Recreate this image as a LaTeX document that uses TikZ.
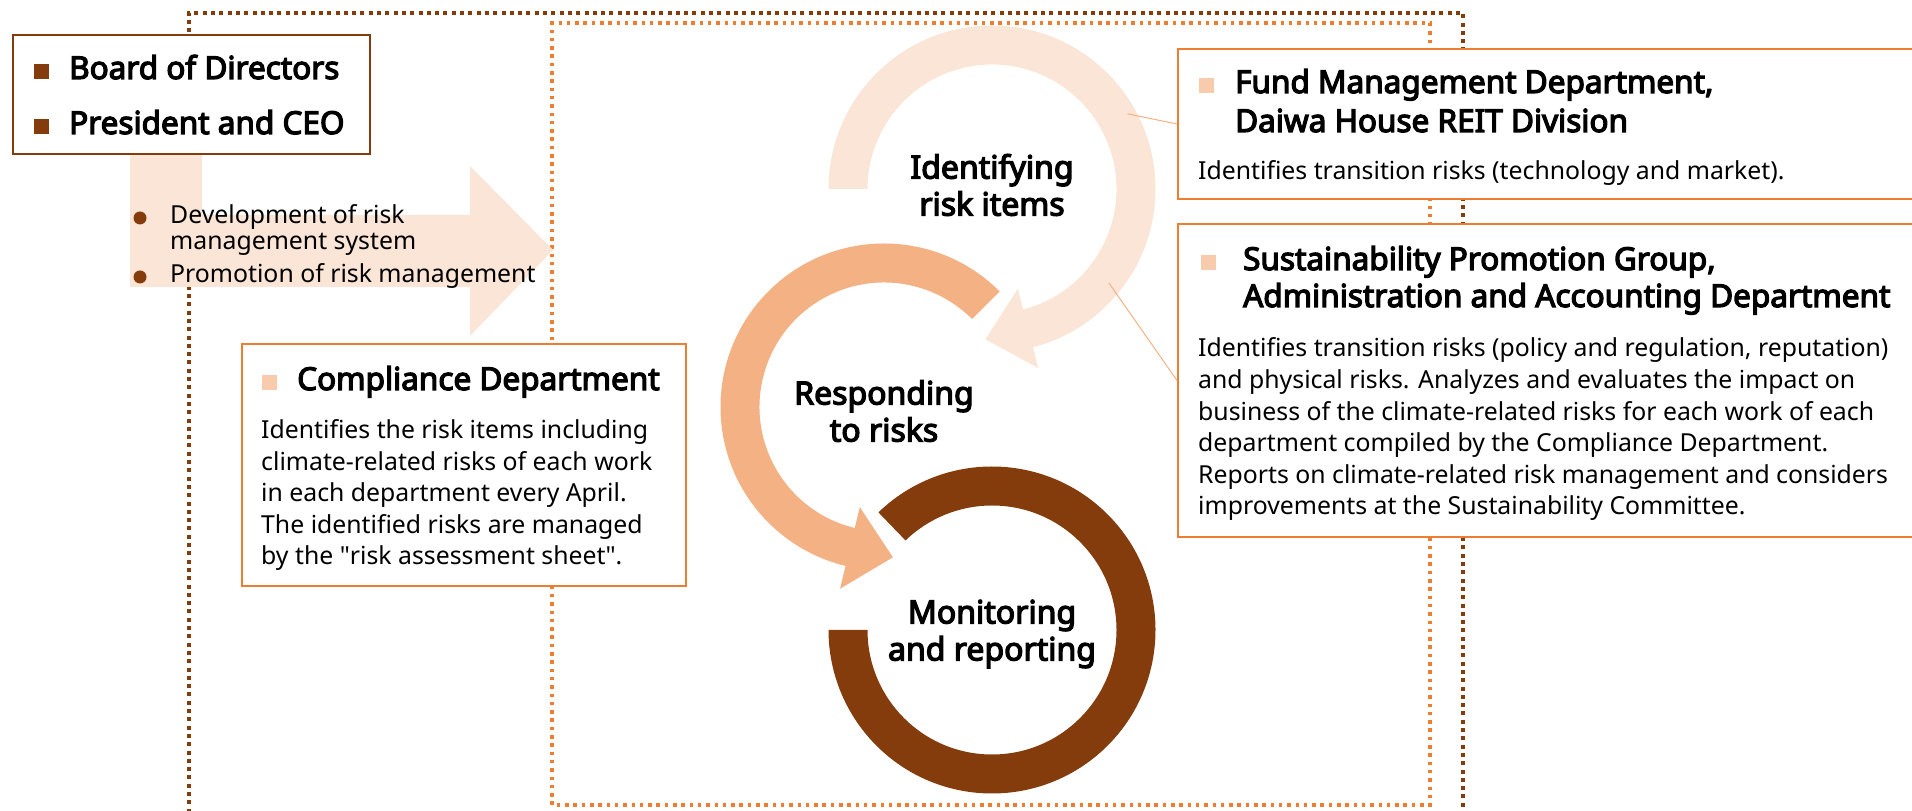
\documentclass[tikz,border=0pt]{standalone}
\usepackage{fontspec}
\setmainfont{Noto Sans}[BoldFont={Noto Sans},BoldFeatures={FakeBold=4}]
\usepackage{xcolor}
\usetikzlibrary{positioning,calc}
\definecolor{rustclr}{RGB}{132,60,12}
\definecolor{edgeclr}{RGB}{237,125,49}
\definecolor{paleclr}{RGB}{251,229,214}
\definecolor{peachclr}{RGB}{244,177,131}
\definecolor{tagclr}{RGB}{248,203,173}
\newcommand{\sqtag}[1]{\textcolor{#1}{\rule{15pt}{15pt}}}
% straight double quote, from a copy of the font loaded without tex-text mapping
\font\qtfont="Noto Sans" at 24.8pt
\newcommand{\dq}{{\qtfont\symbol{34}}}
\tikzset{
  panel/.style={rectangle,draw=edgeclr,line width=2pt,fill=white,
                inner sep=0pt,anchor=north west},
  headtxt/.style={inner sep=0pt,anchor=base west,align=left,
                  font=\bfseries\fontsize{31.5}{39}\selectfont},
  bodytxt/.style={inner sep=0pt,anchor=base west,align=left,
                  font=\fontsize{24.8}{31.6}\selectfont},
  listtxt/.style={bodytxt,font=\fontsize{24.8}{26}\selectfont},
  ringtxt/.style={inner sep=0pt,align=center,
                  font=\bfseries\fontsize{32}{37}\selectfont},
  dotbul/.style={circle,fill=rustclr,minimum size=13pt,inner sep=0pt},
  leader/.style={draw=peachclr,line width=1pt},
  rustdots/.style={draw=rustclr,line width=4pt,dash pattern=on 4pt off 4.3pt},
  edgedots/.style={draw=edgeclr,line width=3.5pt,dash pattern=on 3.5pt off 4.8pt},
}

\begin{document}
\begin{tikzpicture}[x=1pt,y=1pt]
\useasboundingbox (0,0) rectangle (1912,811);
\clip (0,0) rectangle (1912,811);

% dotted frames
\draw[rustdots] (189,-10) -- (189,798) -- (1463,798) -- (1463,-10);
\draw[edgedots] (552,6) rectangle (1430,788);

% bent arrow from the board (multi-line nodes sit on their last baseline)
\fill[paleclr] (130,656) -- (202,656) -- (202,596) -- (470,596) -- (470,645)
  -- (553,561) -- (470,475) -- (470,524) -- (130,524) -- cycle;
\node[listtxt] (devtxt) at (170,561) {Development of risk\\management system};
\node[listtxt] (promtxt) at (170,528) {Promotion of risk management};
\node[dotbul] at ([xshift=-30,yshift=32]devtxt.base west) {};
\node[dotbul] at ([xshift=-30,yshift=6]promtxt.base west) {};

% the cycle
\coordinate (cid) at (992,622);
\coordinate (cre) at (884,404);
\coordinate (cmo) at (992,181);
\fill[paleclr] ($(cid)+(180:163.5)$) arc[start angle=180,end angle=-75.5,radius=163.5]
  -- ($(cid)+(-75.5:185)$) -- ($(cid)+(-75.5:144)+(-165.5:44)$) -- ($(cid)+(-75.5:103)$)
  -- ($(cid)+(-75.5:124.5)$) arc[start angle=-75.5,end angle=180,radius=124.5] -- cycle;
\fill[peachclr] ($(cre)+(45:163.5)$) arc[start angle=45,end angle=256.4,radius=163.5]
  -- ($(cre)+(256.4:187)$) -- ($(cre)+(256.4:144)+(346.4:44)$) -- ($(cre)+(256.4:103)$)
  -- ($(cre)+(256.4:124.5)$) arc[start angle=256.4,end angle=45,radius=124.5] -- cycle;
\fill[rustclr] ($(cmo)+(134:163.5)$) arc[start angle=134,end angle=-180,radius=163.5]
  -- ($(cmo)+(180:124.5)$) arc[start angle=-180,end angle=134,radius=124.5] -- cycle;
\node[ringtxt] (lblid) at ([yshift=4]cid) {Identifying\\risk items};
\node[ringtxt] (lblre) at ([yshift=-4]cre) {Responding\\to risks};
\node[ringtxt] (lblmo) at ([yshift=-4]cmo) {Monitoring\\and reporting};

% boxes
\node[panel,draw=rustclr,minimum width=357,minimum height=119] (board) at (12,777) {};
\node[headtxt,font=\bfseries\fontsize{31.5}{55}\selectfont] (boardtxt)
  at ([xshift=22,yshift=-100]board.north west)
  {\sqtag{rustclr}\hspace{20pt}Board of Directors\\\sqtag{rustclr}\hspace{20pt}President and CEO};

\node[panel,minimum width=444,minimum height=242] (comp) at (241,468) {};
\node[headtxt] (comphead) at ([xshift=21,yshift=-47]comp.north west)
  {\sqtag{tagclr}\hspace{20pt}Compliance Department};
\node[bodytxt] (compbody) at ([xshift=20,yshift=-222]comp.north west)
  {Identifies the risk items including\\climate-related risks of each work\\in each department every April.\\The identified risks are managed\\by the \dq risk assessment sheet\dq.};

\node[panel,minimum width=800,minimum height=150] (fund) at (1177,763) {};
\node[headtxt] (fundhead) at ([xshift=22,yshift=-84]fund.north west)
  {\sqtag{tagclr}\hspace{21pt}Fund Management Department,\\\hspace*{36pt}Daiwa House REIT Division};
\node[bodytxt] (fundbody) at ([xshift=21,yshift=-132]fund.north west)
  {Identifies transition risks (technology and market).};

\node[panel,minimum width=800,minimum height=313] (sust) at (1177,588) {};
\node[headtxt,font=\bfseries\fontsize{31.5}{37}\selectfont] (susthead)
  at ([xshift=24,yshift=-84]sust.north west)
  {\sqtag{tagclr}\hspace{27pt}Sustainability Promotion Group,\\\hspace*{42pt}Administration and Accounting Department};
\node[bodytxt] (sustbody) at ([xshift=21,yshift=-292]sust.north west)
  {Identifies transition risks (policy and regulation, reputation)\\and physical risks. Analyzes and evaluates the impact on\\business of the climate-related risks for each work of each\\department compiled by the Compliance Department.\\Reports on climate-related risk management and considers\\improvements at the Sustainability Committee.};

% leader lines to the departments
\coordinate (tapA) at ($(cid)+(29:155)$);
\coordinate (tapB) at ($(cid)+(-38.8:150)$);
\draw[leader] (tapA) -- (fund.west);
\draw[leader] (tapB) -- (sust.west);
\end{tikzpicture}
\end{document}
